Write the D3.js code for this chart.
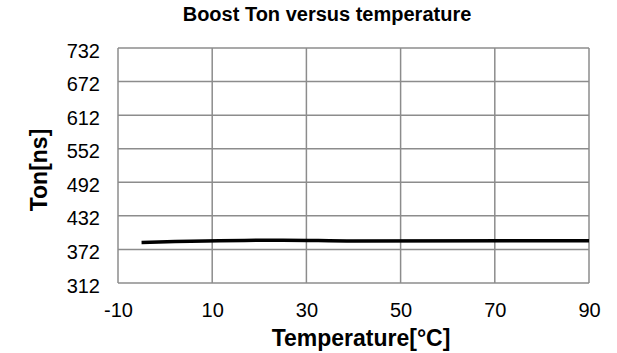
<!DOCTYPE html>
<html><head><meta charset="utf-8">
<script src="https://cdn.jsdelivr.net/npm/d3@7"></script>
<style>body{margin:0;background:#fff}svg{display:block}text{font-family:"Liberation Sans",Arial,sans-serif}</style>
</head><body><svg id="c" width="617" height="353"></svg>
<script>
const temps = [-5, 25, 40, 90];
const tonValues = [384.5, 388.5, 387, 387.5];
const xTicks = [-10, 10, 30, 50, 70, 90];
const yTicks = [312, 372, 432, 492, 552, 612, 672, 732];

const svg = d3.select("#c");
const m = {l:118, r:589, t:48, b:283};
const x = d3.scaleLinear().domain([-10, 90]).range([m.l, m.r]);
const y = d3.scaleLinear().domain([312, 732]).range([m.b, m.t]);

const grid = svg.append("g");
grid.selectAll("line.v").data(xTicks).join("line")
  .attr("x1", d=>x(d)).attr("x2", d=>x(d)).attr("y1", m.t).attr("y2", m.b)
  .attr("stroke", "#8c8c8c").attr("stroke-width", 1.5);
grid.selectAll("line.h").data(yTicks).join("line")
  .attr("y1", d=>y(d)).attr("y2", d=>y(d)).attr("x1", m.l).attr("x2", m.r)
  .attr("stroke", "#8c8c8c").attr("stroke-width", 1.5);

const fmt = d => String(d);
const xAxis = d3.axisBottom(x).tickValues(xTicks).tickFormat(fmt).tickSize(0).tickPadding(20);
svg.append("g").attr("transform", `translate(0,${m.b})`).call(xAxis)
  .call(g=>g.select(".domain").remove())
  .selectAll("text").attr("font-size", 20).attr("fill", "#000").attr("font-family", "Liberation Sans, Arial, sans-serif");
const yAxis = d3.axisLeft(y).tickValues(yTicks).tickFormat(fmt).tickSize(0).tickPadding(18);
svg.append("g").attr("transform", `translate(${m.l},0)`).call(yAxis)
  .call(g=>g.select(".domain").remove())
  .selectAll("text").attr("font-size", 20).attr("dy", "0.45em").attr("fill", "#000").attr("font-family", "Liberation Sans, Arial, sans-serif");

svg.append("path").datum(temps.map((t,i)=>[t, tonValues[i]]))
  .attr("fill", "none").attr("stroke", "#000").attr("stroke-width", 3.5)
  .attr("d", d3.line().x(d=>x(d[0])).y(d=>y(d[1])).curve(d3.curveMonotoneX));

svg.append("text").attr("x", 327).attr("y", 21).attr("text-anchor", "middle")
  .attr("font-size", 20).attr("font-weight", "bold").text("Boost Ton versus temperature");
svg.append("text").attr("x", 361).attr("y", 346).attr("text-anchor", "middle")
  .attr("font-size", 23).attr("font-weight", "bold").text("Temperature[°C]");
svg.append("text").attr("transform", `translate(47,170) rotate(-90)`).attr("text-anchor", "middle")
  .attr("font-size", 23).attr("font-weight", "bold").text("Ton[ns]");
</script></body></html>
